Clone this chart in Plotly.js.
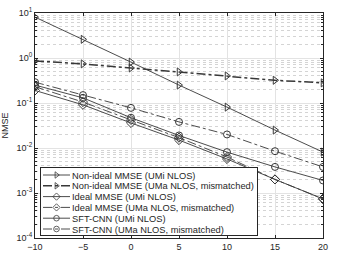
<!DOCTYPE html>
<html><head><meta charset="utf-8">
<script src="https://cdn.plot.ly/plotly-3.0.1.min.js"></script>
<style>html,body{margin:0;padding:0;background:#fff}#c{width:359px;height:257px}</style>
</head><body><div id="c"></div>
<script>
const snr = [-10, -5, 0, 5, 10, 15, 20];
const nonIdealUMi = [8.1, 2.6, 0.81, 0.25, 0.081, 0.025, 0.0081];
const nonIdealUMa = [0.86, 0.74, 0.60, 0.49, 0.40, 0.32, 0.28];
const idealUMi = [0.19, 0.091, 0.036, 0.015, 0.0057, 0.0020, 0.00074];
const idealUMa = [0.23, 0.105, 0.042, 0.017, 0.0063, 0.0020, 0.00074];
const sftUMi = [0.25, 0.13, 0.047, 0.019, 0.0081, 0.0038, 0.0019];
const sftUMa = [0.29, 0.15, 0.078, 0.038, 0.020, 0.0085, 0.0038];
const yTickVals = [1e-4, 1e-3, 1e-2, 1e-1, 1, 10];
const yTickText = ['10<sup>-4</sup>', '10<sup>-3</sup>', '10<sup>-2</sup>', '10<sup>-1</sup>', '10<sup>0</sup>', '10<sup>1</sup>'];
const xTickVals = [-10, -5, 0, 5, 10, 15, 20];
const names = ['Non-ideal MMSE (UMi NLOS)', 'Non-ideal MMSE (UMa NLOS, mismatched)',
  'Ideal MMSE (UMi NLOS)', 'Ideal MMSE (UMa NLOS, mismatched)',
  'SFT-CNN (UMi NLOS)', 'SFT-CNN (UMa NLOS, mismatched)'];
const series = [nonIdealUMi, nonIdealUMa, idealUMi, idealUMa, sftUMi, sftUMa];
const symbols = ['triangle-right-open','triangle-right-open','diamond-open','diamond-open','circle-open','circle-open'];
const dashes = ['solid','dashdot','solid','dashdot','solid','dashdot'];
const widths = [0.9, 1.5, 0.9, 0.9, 0.9, 0.9];
const col = '#383838';
const traces = series.map((y, i) => ({
  x: snr, y: y, name: names[i], type: 'scatter', mode: 'lines+markers',
  line: {color: col, width: widths[i], dash: dashes[i]},
  marker: {symbol: symbols[i], size: 7, color: col, line: {color: col, width: 1}}
}));
const font = {family: 'Liberation Sans, Arial, sans-serif', size: 9, color: '#262626'};
const layout = {
  width: 359, height: 257,
  margin: {l: 35, r: 36, t: 13, b: 19},
  paper_bgcolor: '#fff', plot_bgcolor: '#fff',
  font: font, showlegend: true,
  xaxis: {range: [-10, 20], tickmode: 'array', tickvals: xTickVals,
    ticks: 'inside', ticklen: 3, tickcolor: '#262626', mirror: 'allticks',
    showline: true, linecolor: '#262626', linewidth: 1,
    showgrid: true, gridcolor: '#e3e3e3', gridwidth: 1, zeroline: false, tickfont: font},
  yaxis: {type: 'log', range: [-4, 1], tickmode: 'array', tickvals: yTickVals, ticktext: yTickText,
    ticks: 'inside', ticklen: 3, tickcolor: '#262626', mirror: 'allticks',
    showline: true, linecolor: '#262626', linewidth: 1,
    showgrid: true, gridcolor: '#e3e3e3', gridwidth: 1, zeroline: false, tickfont: font,
    minor: {dtick: 'D1', ticks: 'inside', ticklen: 2, tickcolor: '#262626', showgrid: true, gridcolor: '#d4d4d4', griddash: 'dot'},
    title: {text: 'NMSE', font: font, standoff: 6}},
  legend: {x: 0.017, y: 0.98, xanchor: 'left', yanchor: 'top', bgcolor: '#fff',
    bordercolor: '#262626', borderwidth: 1, font: {family: font.family, size: 9.3, color: '#262626'},
    tracegroupgap: 0, itemwidth: 30}
};
const gd = document.getElementById('c');
Plotly.newPlot(gd, traces, layout, {staticPlot: true, displayModeBar: false}).then(() => {
  const leg = gd.querySelector('.legend');
  if (!leg) return;
  const step = 10.8;
  const items = leg.querySelectorAll('.traces');
  let maxRight = 0;
  items.forEach((g, i) => {
    g.setAttribute('transform', 'translate(0,' + (8 + i * step) + ')');
    g.querySelectorAll('.legendlines path').forEach(p => p.setAttribute('d', 'M3,0h27'));
    g.querySelectorAll('.legendsymbols path').forEach(p => p.setAttribute('transform', 'translate(16.5,0) scale(0.8)'));
    const t = g.querySelector('text.legendtext');
    if (t) {
      t.setAttribute('x', 32);
      t.querySelectorAll('tspan').forEach(ts => { if (ts.getAttribute('x')) ts.setAttribute('x', 32); });
      const bb = t.getBBox();
      maxRight = Math.max(maxRight, bb.x + bb.width);
    }
  });
  const bg = leg.querySelector('rect.bg');
  if (bg) {
    bg.setAttribute('height', 68);
    bg.setAttribute('width', Math.max(maxRight + 3, 192));
  }
  leg.setAttribute('transform', 'translate(40,167)');
});
</script></body></html>
